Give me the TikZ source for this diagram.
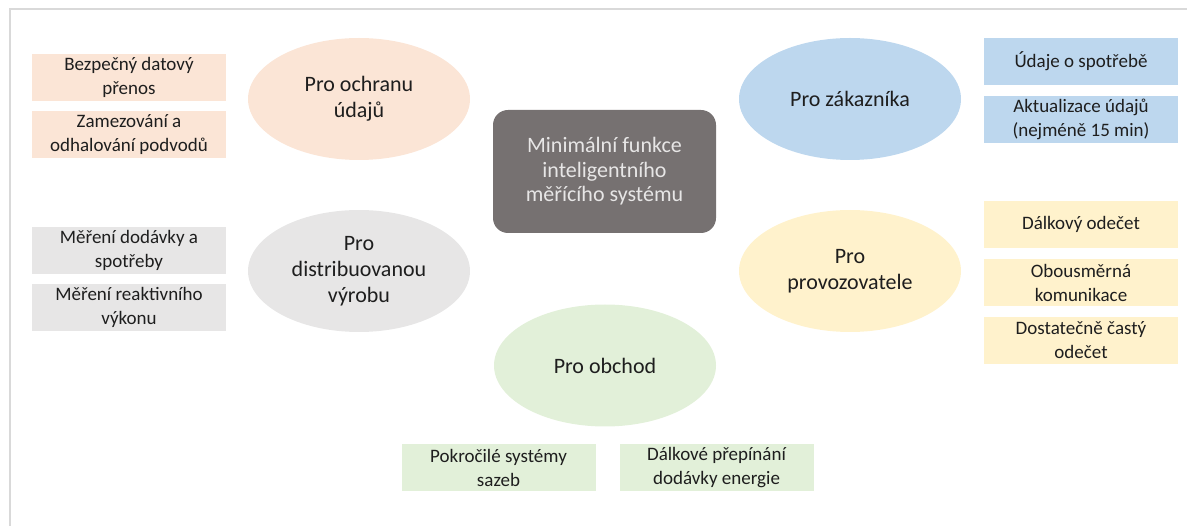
\documentclass[tikz,border=0pt]{standalone}
\usepackage{fontspec}
\setmainfont{Carlito}
\usetikzlibrary{shapes.geometric}

\definecolor{ochrana}{HTML}{FBE5D6}
\definecolor{vyroba}{HTML}{E7E6E6}
\definecolor{zakaznik}{HTML}{BDD7EE}
\definecolor{provoz}{HTML}{FFF2CC}
\definecolor{obchod}{HTML}{E2F0D9}
\definecolor{jadro}{HTML}{767171}
\definecolor{ramec}{HTML}{D9D9D9}
\definecolor{pismo}{HTML}{1E1E1E}

\tikzset{
    skupina/.style={ellipse, minimum width=222pt, minimum height=122pt, inner sep=0pt,
        align=center, text=pismo, font=\fontsize{22}{26}\selectfont},
    polozka/.style={rectangle, minimum width=194pt, minimum height=47pt, inner sep=0pt,
        align=center, text=pismo, font=\fontsize{19}{24}\selectfont}
}

\begin{document}
\begin{tikzpicture}[x=1pt,y=-1pt]

\useasboundingbox (0,0) rectangle (1187,526);

% frame
\draw[ramec, line width=2pt] (10,526) -- (10,9) -- (1187,9);

% centre
\node[rectangle, rounded corners=15pt, fill=jadro, minimum width=223pt, minimum height=123pt,
    align=center, text=vyroba, font=\fontsize{22}{24.5}\selectfont] (jadro) at (604.5,171.5)
    {Minimální funkce\\inteligentního\\měřícího systému};

% groups
\node[skupina, fill=ochrana] (ochranaE) at (359,99) {Pro ochranu\\údajů};
\node[skupina, fill=vyroba] (vyrobaE) at (359,271) {Pro\\distribuovanou\\výrobu};
\node[skupina, fill=zakaznik] (zakaznikE) at (850,99) {Pro zákazníka};
\node[skupina, fill=provoz] (provozE) at (850,271) {Pro\\provozovatele};
\node[skupina, fill=obchod] (obchodE) at (605,365.5) {Pro obchod};

% items
\foreach \n/\y/\t in {1/77.5/{Bezpečný datový\\přenos}, 2/134.5/{Zamezování a\\odhalování podvodů}}
{
    \node[polozka, fill=ochrana] (ochrana\n) at (129,\y) {\t};
}

\foreach \n/\y/\t in {1/250.5/{Měření dodávky a\\spotřeby}, 2/307.5/{Měření reaktivního\\výkonu}}
{
    \node[polozka, fill=vyroba] (vyroba\n) at (129,\y) {\t};
}

\foreach \n/\y/\t in {1/61.5/{Údaje o spotřebě}, 2/119.5/{Aktualizace údajů\\(nejméně 15 min)}}
{
    \node[polozka, fill=zakaznik] (zakaznik\n) at (1081,\y) {\t};
}

\foreach \n/\y/\t in {1/224.5/{Dálkový odečet}, 2/282.5/{Obousměrná\\komunikace}, 3/340.5/{Dostatečně častý\\odečet}}
{
    \node[polozka, fill=provoz] (provoz\n) at (1081,\y) {\t};
}

\foreach \n/\x/\t in {1/498.5/{Pokročilé systémy\\sazeb}, 2/716.5/{Dálkové přepínání\\dodávky energie}}
{
    \node[polozka, fill=obchod] (obchod\n) at (\x,468) {\t};
}

\end{tikzpicture}
\end{document}
